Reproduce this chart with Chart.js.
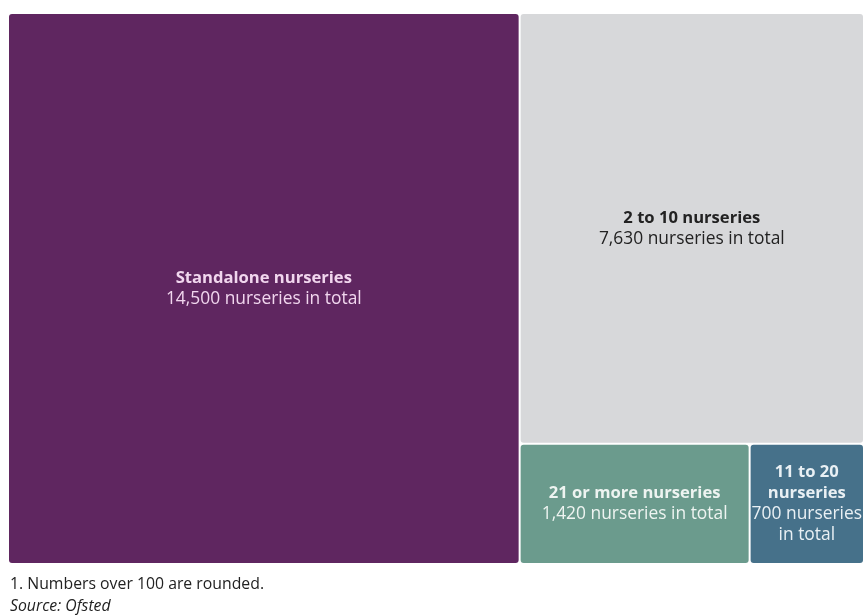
<!DOCTYPE html>
<html>
<head>
<meta charset="utf-8">
<script src="https://cdn.jsdelivr.net/npm/chart.js@4"></script>
<style>
  html, body { margin: 0; padding: 0; background: #fff; }
  #wrap { position: relative; width: 863px; height: 615px; overflow: hidden; }
  #notes { position: absolute; left: 10px; top: 572px; font-family: "Open Sans", sans-serif; font-size: 15.8px; color: #222; line-height: 22px; }
  #notes .src { font-style: italic; }
</style>
</head>
<body>
<div id="wrap">
  <canvas id="treemap" width="863" height="615"></canvas>
  <div id="notes">
    <div>1. Numbers over 100 are rounded.</div>
    <div class="src">Source: Ofsted</div>
  </div>
</div>
<script>
// chain size groups and nursery counts
const groups = ["Standalone nurseries", "2 to 10 nurseries", "21 or more nurseries", "11 to 20 nurseries"];
const nurseries = [14500, 7630, 1420, 700];
const subLabels = ["14,500 nurseries in total", "7,630 nurseries in total", "1,420 nurseries in total", "700 nurseries in total"];
const fillColors = ["#5f2660", "#d7d8da", "#6b9b8d", "#46718a"];
const textColors = ["#f1d6ee", "#222222", "#eef4f1", "#e9f0f4"];

const total = nurseries.reduce((a, b) => a + b, 0);

// Treemap layout in data units: x runs 0..total, y runs 0..1.
// First group takes a full-height column, the next sits on top of the rest,
// and the remaining groups share the bottom row side by side.
function layoutCells() {
    const cells = [];
    cells.push({ x0: 0, x1: nurseries[0], y0: 0, y1: 1 });
    const colStart = nurseries[0];
    const colWidth = total - nurseries[0];
    const bottomShare = (total - nurseries[0] - nurseries[1]) / colWidth;
    cells.push({ x0: colStart, x1: total, y0: bottomShare, y1: 1 });
    const rest = nurseries.slice(2);
    const restSum = rest.reduce((a, b) => a + b, 0);
    let x = colStart;
    rest.forEach(v => {
        const w = colWidth * v / restSum;
        cells.push({ x0: x, x1: x + w, y0: 0, y1: bottomShare });
        x += w;
    });
    return cells;
}

function wrapText(ctx, text, maxWidth) {
    const words = text.split(" ");
    const lines = [];
    let line = "";
    words.forEach(word => {
        const test = line ? line + " " + word : word;
        if (ctx.measureText(test).width > maxWidth && line) {
            lines.push(line);
            line = word;
        } else {
            line = test;
        }
    });
    if (line) lines.push(line);
    return lines;
}

const headFont = "bold 16.6px 'Open Sans', sans-serif";
const subFont = "17.4px 'Open Sans', sans-serif";

const treemapPlugin = {
    id: "treemapCells",
    beforeDatasetsDraw(chart) {
        const ctx = chart.ctx;
        const xs = chart.scales.x;
        const ys = chart.scales.y;
        const gap = 1;
        const cells = layoutCells();

        cells.forEach((c, i) => {
            const left = xs.getPixelForValue(c.x0) + (c.x0 > 0 ? gap : 0);
            const right = xs.getPixelForValue(c.x1) - (c.x1 < total ? gap : 0);
            const top = ys.getPixelForValue(c.y1) + (c.y1 < 1 ? gap : 0);
            const bottom = ys.getPixelForValue(c.y0) - (c.y0 > 0 ? gap : 0);

            ctx.save();
            ctx.fillStyle = fillColors[i];
            ctx.beginPath();
            ctx.roundRect(left, top, right - left, bottom - top, 3);
            ctx.fill();

            // labels, centred in the cell
            const maxW = right - left + 2;
            ctx.textAlign = "center";
            ctx.textBaseline = "middle";
            ctx.fillStyle = textColors[i];
            ctx.font = headFont;
            const head = wrapText(ctx, groups[i], maxW);
            ctx.font = subFont;
            const sub = wrapText(ctx, subLabels[i], maxW);
            const lineH = 21;
            const n = head.length + sub.length;
            const cx = (left + right) / 2;
            let y = (top + bottom) / 2 - (n - 1) * lineH / 2;
            ctx.font = headFont;
            head.forEach(l => { ctx.fillText(l, cx, y); y += lineH; });
            ctx.font = subFont;
            sub.forEach(l => { ctx.fillText(l, cx, y); y += lineH; });
            ctx.restore();
        });
    }
};

new Chart(document.getElementById("treemap"), {
    type: "scatter",
    data: { datasets: [{ data: [] }] },
    options: {
        responsive: false,
        animation: false,
        layout: { padding: { left: 9, right: 0, top: 14, bottom: 52 } },
        plugins: { legend: { display: false }, tooltip: { enabled: false } },
        scales: {
            x: { type: "linear", min: 0, max: total, display: false },
            y: { type: "linear", min: 0, max: 1, display: false }
        }
    },
    plugins: [treemapPlugin]
});
</script>
</body>
</html>
